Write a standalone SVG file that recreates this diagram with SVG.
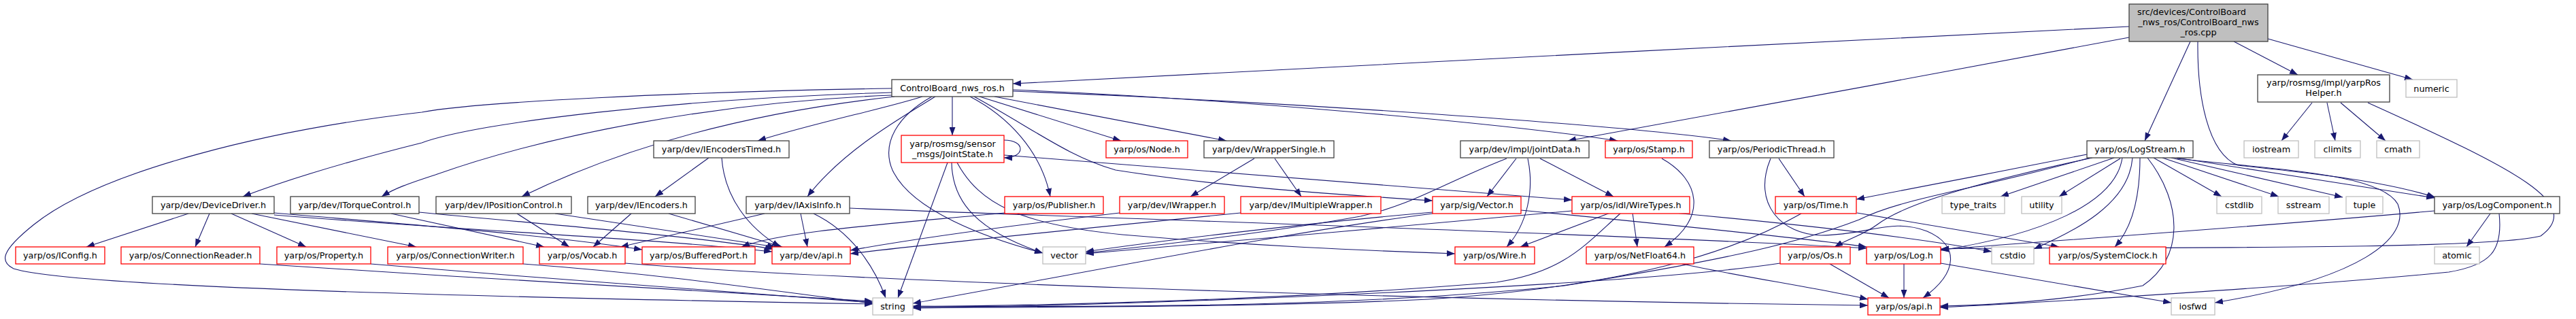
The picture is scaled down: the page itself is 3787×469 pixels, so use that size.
<svg xmlns="http://www.w3.org/2000/svg" width="3787" height="469" viewBox="0 0 3787 469">
<style>
.b rect{fill:#fff;stroke:#404040;stroke-width:1.3}
.r rect{fill:#fff;stroke:#ff0000;stroke-width:1.3}
.g rect{fill:#fff;stroke:#bfbfbf;stroke-width:1.3}
.root rect{fill:#bfbfbf;stroke:#404040;stroke-width:1.3}
text{font-family:"DejaVu Sans","Liberation Sans",sans-serif;font-size:12.8px;text-anchor:middle;fill:#000}
#edges path{fill:none;stroke:#191970;stroke-width:1.1;marker-end:url(#a)}
</style>
<defs>
<marker id="a" viewBox="0 0 12 9" refX="12" refY="4.5" markerWidth="12" markerHeight="9" markerUnits="userSpaceOnUse" orient="auto"><path d="M0,0L12,4.5L0,9z" fill="#191970"/></marker>
</defs>
<rect width="3787" height="469" fill="#fff"/>
<g id="edges">
<path d="M3130,39 C2600,62 2000,100 1489,123"/>
<path d="M3130,55 C2900,100 2500,170 2305,207"/>
<path d="M3220,61 L3153,207"/>
<path d="M3284,61 L3378,110"/>
<path d="M3334,57 L3547,117"/>
<path d="M3231,61 C3230,140 3245,225 3290,243 C3400,255 3500,265 3580,290"/>
<path d="M3200,233 C3350,250 3500,255 3525,300 C3545,350 3470,410 3256,445"/>
<path d="M1311,130 C1000,135 700,150 620,165 C400,190 150,250 50,330 C0,370 0,385 20,395 C100,420 600,435 1283,447"/>
<path d="M1311,136 C1000,145 700,180 620,210 C500,240 420,265 357,289"/>
<path d="M1311,140 C1050,150 800,200 640,257 C600,270 580,277 561,289"/>
<path d="M1315,142 C1150,160 950,200 767,289"/>
<path d="M1356,142 C1300,160 1200,180 1114,207"/>
<path d="M1375,142 C1330,170 1240,220 1187,289"/>
<path d="M1400,142 L1400,199"/>
<path d="M1370,142 C1320,170 1295,210 1312,250 C1340,310 1450,350 1533,372"/>
<path d="M1426,142 C1480,170 1530,220 1544,289"/>
<path d="M1440,142 L1648,207"/>
<path d="M1462,142 L1803,207"/>
<path d="M1432,142 C1520,190 1570,230 1640,250 C1800,275 1950,285 2106,295"/>
<path d="M1489,132 C1800,145 2200,180 2378,207"/>
<path d="M1489,134 C1900,150 2400,185 2545,207"/>
<path d="M1476,206 C1508,206 1508,232 1476,232"/>
<path d="M1393,239 L1320,438"/>
<path d="M1399,239 C1400,300 1440,340 1533,372"/>
<path d="M1407,239 C1440,300 1500,330 1650,345 C1850,362 2000,368 2139,373"/>
<path d="M1476,228 L2311,294"/>
<path d="M1042,232 L963,289"/>
<path d="M1061,232 C1065,290 1100,335 1147,363"/>
<path d="M277,314 L127,363"/>
<path d="M308,314 L287,363"/>
<path d="M340,314 L450,363"/>
<path d="M370,314 L612,363"/>
<path d="M403,313 C600,330 800,345 944,367"/>
<path d="M403,316 C700,340 950,350 1135,370"/>
<path d="M575,314 L800,363"/>
<path d="M616,312 C800,330 1000,345 1137,366"/>
<path d="M760,314 L837,363"/>
<path d="M816,314 L1140,363"/>
<path d="M928,314 L872,363"/>
<path d="M983,314 L1150,363"/>
<path d="M1124,314 L912,363"/>
<path d="M1177,314 L1187,363"/>
<path d="M1196,314 C1250,340 1285,390 1302,438"/>
<path d="M1249,306 C1600,320 2400,345 2744,365"/>
<path d="M1477,313 C1300,330 1150,340 1090,363"/>
<path d="M1646,313 C1500,330 1350,350 1250,368"/>
<path d="M1824,313 C1600,335 1400,355 1250,373"/>
<path d="M1844,233 L1750,289"/>
<path d="M1874,233 L1913,289"/>
<path d="M2229,233 L2186,289"/>
<path d="M2246,233 C2256,280 2245,330 2215,363"/>
<path d="M2264,233 L2372,289"/>
<path d="M2215,233 C2120,270 2080,300 2000,318 C1850,345 1700,360 1596,372"/>
<path d="M2106,312 C1900,330 1700,355 1596,370"/>
<path d="M2106,314 C1900,340 1600,400 1342,446"/>
<path d="M2236,309 C2450,330 2650,350 2744,363"/>
<path d="M2367,313 L2235,363"/>
<path d="M2400,313 L2407,363"/>
<path d="M2383,313 C2330,360 2300,400 2200,415 C1900,440 1600,448 1342,451"/>
<path d="M2311,310 C2100,330 1800,355 1596,373"/>
<path d="M2462,313 C2700,335 2850,355 2928,370"/>
<path d="M2443,233 C2500,265 2510,320 2447,363"/>
<path d="M2615,233 L2653,289"/>
<path d="M2603,233 C2575,300 2620,345 2677,346 C2750,345 2780,320 2833,340 C2880,360 2880,400 2827,438"/>
<path d="M2648,314 C2550,370 2400,420 2100,440 C1900,450 1600,452 1342,452"/>
<path d="M2730,313 L3027,363"/>
<path d="M2690,388 L2777,438"/>
<path d="M2617,387 C2400,420 1700,448 1342,453"/>
<path d="M2799,388 L2799,438"/>
<path d="M2853,387 L3192,445"/>
<path d="M2473,388 C2550,405 2680,425 2746,440"/>
<path d="M919,387 C1200,410 2000,440 2746,449"/>
<path d="M382,388 C700,410 1100,430 1283,443"/>
<path d="M545,388 C800,410 1100,430 1283,445"/>
<path d="M769,388 C1000,405 1150,430 1283,446"/>
<path d="M3068,227 C2950,250 2850,270 2729,293"/>
<path d="M3076,232 C2900,270 2800,300 2760,330 C2740,345 2720,350 2697,363"/>
<path d="M3072,232 C2900,280 2800,290 2733,323 C2650,355 2550,380 2300,420 C2000,450 1700,452 1342,450"/>
<path d="M3108,232 L2941,289"/>
<path d="M3117,233 L3027,289"/>
<path d="M3120,232 C3110,300 3000,345 2853,368"/>
<path d="M3135,232 C3130,300 3050,340 2990,366"/>
<path d="M3146,232 C3146,300 3130,340 3109,363"/>
<path d="M3157,232 C3210,300 3210,380 3150,420 C3050,440 2950,448 2852,450"/>
<path d="M3166,232 L3266,289"/>
<path d="M3179,232 L3350,289"/>
<path d="M3192,232 L3444,290"/>
<path d="M3200,232 L3579,291"/>
<path d="M3399,151 L3354,207"/>
<path d="M3421,151 L3433,207"/>
<path d="M3441,151 L3507,207"/>
<path d="M3481,151 C3700,250 3800,300 3735,347 C3650,370 3000,362 2853,366"/>
<path d="M3661,314 L3626,363"/>
<path d="M3579,310 C3300,335 3000,355 2853,367"/>
<path d="M3674,314 C3680,370 3660,390 3600,400 C3400,420 3000,445 2852,452"/>
</g>
<g id="n_root" class="root"><rect x="3130" y="6" width="204" height="55"/><text x="3222" y="22">src/devices/ControlBoard</text><text x="3232" y="37">_nws_ros/ControlBoard_nws</text><text x="3232" y="51.5">_ros.cpp</text></g>
<g id="n_cb" class="b"><rect x="1311" y="117" width="178" height="25"/><text x="1400" y="134">ControlBoard_nws_ros.h</text></g>
<g id="n_rosHelper" class="b"><rect x="3319" y="110" width="194" height="40"/><text x="3416" y="126">yarp/rosmsg/impl/yarpRos</text><text x="3416" y="141">Helper.h</text></g>
<g id="n_numeric" class="g"><rect x="3537" y="117" width="75" height="26"/><text x="3574.5" y="134.5">numeric</text></g>
<g id="n_iencTimed" class="b"><rect x="961" y="207" width="199" height="25"/><text x="1060.5" y="224">yarp/dev/IEncodersTimed.h</text></g>
<g id="n_jointState" class="r"><rect x="1325" y="199" width="151" height="40"/><text x="1400.5" y="215.5">yarp/rosmsg/sensor</text><text x="1400.5" y="230.5">_msgs/JointState.h</text></g>
<g id="n_node" class="r"><rect x="1626" y="207" width="120" height="25"/><text x="1686" y="224">yarp/os/Node.h</text></g>
<g id="n_wrapperSingle" class="b"><rect x="1770" y="207" width="191" height="25"/><text x="1865.5" y="224">yarp/dev/WrapperSingle.h</text></g>
<g id="n_jointData" class="b"><rect x="2147" y="207" width="189" height="25"/><text x="2241.5" y="224">yarp/dev/impl/jointData.h</text></g>
<g id="n_stamp" class="r"><rect x="2360" y="207" width="128" height="25"/><text x="2424" y="224">yarp/os/Stamp.h</text></g>
<g id="n_periodic" class="b"><rect x="2513" y="207" width="183" height="25"/><text x="2604.5" y="224">yarp/os/PeriodicThread.h</text></g>
<g id="n_logStream" class="b"><rect x="3068" y="207" width="156" height="25"/><text x="3146" y="224">yarp/os/LogStream.h</text></g>
<g id="n_iostream" class="g"><rect x="3299" y="207" width="80" height="25"/><text x="3339" y="224">iostream</text></g>
<g id="n_climits" class="g"><rect x="3403" y="207" width="67" height="25"/><text x="3436.5" y="224">climits</text></g>
<g id="n_cmath" class="g"><rect x="3494" y="207" width="63" height="25"/><text x="3525.5" y="224">cmath</text></g>
<g id="n_deviceDriver" class="b"><rect x="224" y="289" width="179" height="25"/><text x="313.5" y="306">yarp/dev/DeviceDriver.h</text></g>
<g id="n_itorque" class="b"><rect x="427" y="289" width="189" height="25"/><text x="521.5" y="306">yarp/dev/ITorqueControl.h</text></g>
<g id="n_ipos" class="b"><rect x="641" y="289" width="199" height="25"/><text x="740.5" y="306">yarp/dev/IPositionControl.h</text></g>
<g id="n_ienc" class="b"><rect x="864" y="289" width="158" height="25"/><text x="943" y="306">yarp/dev/IEncoders.h</text></g>
<g id="n_iaxis" class="b"><rect x="1097" y="289" width="152" height="25"/><text x="1173" y="306">yarp/dev/IAxisInfo.h</text></g>
<g id="n_publisher" class="r"><rect x="1477" y="289" width="145" height="25"/><text x="1549.5" y="306">yarp/os/Publisher.h</text></g>
<g id="n_iwrapper" class="r"><rect x="1646" y="289" width="154" height="25"/><text x="1723" y="306">yarp/dev/IWrapper.h</text></g>
<g id="n_imulti" class="r"><rect x="1824" y="289" width="206" height="25"/><text x="1927" y="306">yarp/dev/IMultipleWrapper.h</text></g>
<g id="n_sigVector" class="r"><rect x="2106" y="289" width="130" height="25"/><text x="2171" y="306">yarp/sig/Vector.h</text></g>
<g id="n_wireTypes" class="r"><rect x="2311" y="289" width="173" height="25"/><text x="2397.5" y="306">yarp/os/idl/WireTypes.h</text></g>
<g id="n_time" class="r"><rect x="2610" y="289" width="119" height="25"/><text x="2669.5" y="306">yarp/os/Time.h</text></g>
<g id="n_typeTraits" class="g"><rect x="2855" y="289" width="92" height="25"/><text x="2901" y="306">type_traits</text></g>
<g id="n_utility" class="g"><rect x="2972" y="289" width="59" height="25"/><text x="3001.5" y="306">utility</text></g>
<g id="n_cstdlib" class="g"><rect x="3259" y="289" width="66" height="25"/><text x="3292" y="306">cstdlib</text></g>
<g id="n_sstream" class="g"><rect x="3349" y="289" width="75" height="25"/><text x="3386.5" y="306">sstream</text></g>
<g id="n_tuple" class="g"><rect x="3449" y="289" width="54" height="25"/><text x="3476" y="306">tuple</text></g>
<g id="n_logComponent" class="b"><rect x="3579" y="289" width="184" height="25"/><text x="3671" y="306">yarp/os/LogComponent.h</text></g>
<g id="n_iconfig" class="r"><rect x="23" y="363" width="131" height="25"/><text x="88.5" y="380">yarp/os/IConfig.h</text></g>
<g id="n_connReader" class="r"><rect x="178" y="363" width="204" height="25"/><text x="280" y="380">yarp/os/ConnectionReader.h</text></g>
<g id="n_property" class="r"><rect x="407" y="363" width="138" height="25"/><text x="476" y="380">yarp/os/Property.h</text></g>
<g id="n_connWriter" class="r"><rect x="570" y="363" width="199" height="25"/><text x="669.5" y="380">yarp/os/ConnectionWriter.h</text></g>
<g id="n_vocab" class="r"><rect x="793" y="363" width="126" height="25"/><text x="856" y="380">yarp/os/Vocab.h</text></g>
<g id="n_bufferedPort" class="r"><rect x="944" y="363" width="166" height="25"/><text x="1027" y="380">yarp/os/BufferedPort.h</text></g>
<g id="n_devApi" class="r"><rect x="1135" y="363" width="115" height="25"/><text x="1192.5" y="380">yarp/dev/api.h</text></g>
<g id="n_vector" class="g"><rect x="1533" y="363" width="63" height="25"/><text x="1564.5" y="380">vector</text></g>
<g id="n_wire" class="r"><rect x="2139" y="363" width="117" height="25"/><text x="2197.5" y="380">yarp/os/Wire.h</text></g>
<g id="n_netFloat" class="r"><rect x="2332" y="363" width="158" height="25"/><text x="2411" y="380">yarp/os/NetFloat64.h</text></g>
<g id="n_os" class="r"><rect x="2617" y="363" width="103" height="25"/><text x="2668.5" y="380">yarp/os/Os.h</text></g>
<g id="n_log" class="r"><rect x="2744" y="363" width="109" height="25"/><text x="2798.5" y="380">yarp/os/Log.h</text></g>
<g id="n_cstdio" class="g"><rect x="2928" y="363" width="62" height="25"/><text x="2959" y="380">cstdio</text></g>
<g id="n_systemClock" class="r"><rect x="3013" y="363" width="171" height="25"/><text x="3098.5" y="380">yarp/os/SystemClock.h</text></g>
<g id="n_atomic" class="g"><rect x="3579" y="363" width="66" height="25"/><text x="3612" y="380">atomic</text></g>
<g id="n_string" class="g"><rect x="1283" y="438" width="59" height="25"/><text x="1312.5" y="455">string</text></g>
<g id="n_osApi" class="r"><rect x="2746" y="438" width="106" height="25"/><text x="2799" y="455">yarp/os/api.h</text></g>
<g id="n_iosfwd" class="g"><rect x="3192" y="438" width="64" height="25"/><text x="3224" y="455">iosfwd</text></g>
</svg>
